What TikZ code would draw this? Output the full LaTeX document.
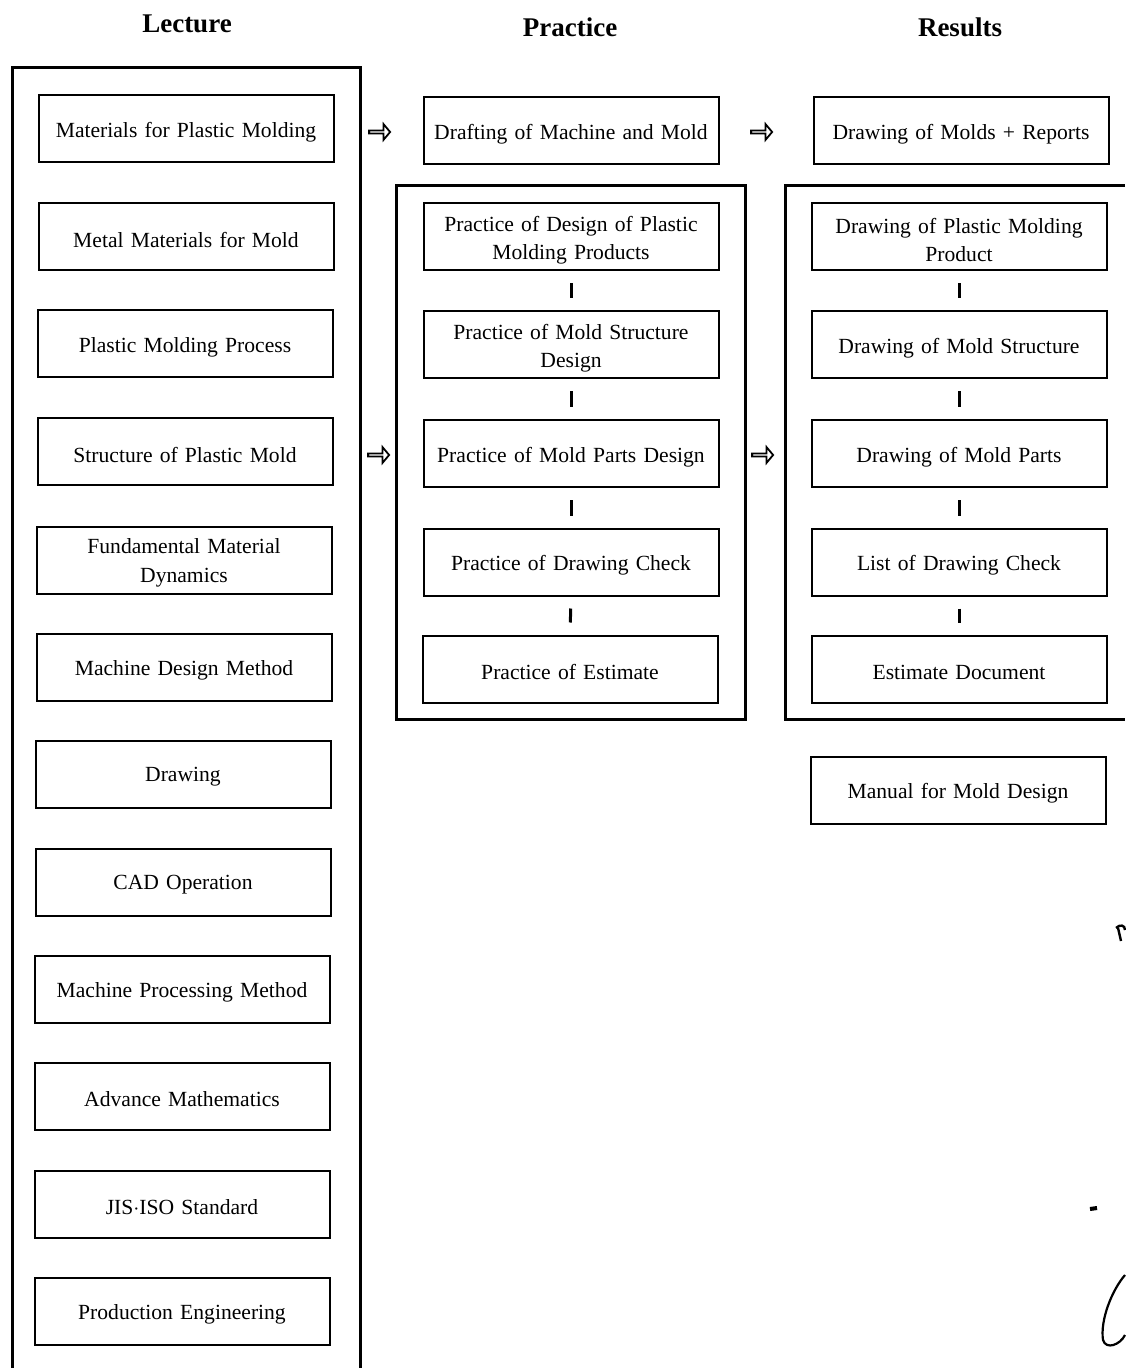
\documentclass[tikz,border=0pt]{standalone}
\usepackage{fontspec}
\setmainfont{Liberation Serif}
\usetikzlibrary{shapes.arrows}
\begin{document}
\begin{tikzpicture}[x=0.5pt,y=-0.5pt,
  box/.style={draw, line width=1pt, minimum width=147.5pt, minimum height=33.5pt, inner sep=0pt},
  btext/.style={align=center, text width=145pt, inner sep=0pt, font=\fontsize{10.8}{14.2}\selectfont},
  frame/.style={line width=1.5pt},
  title/.style={font=\fontsize{13.5}{15}\selectfont\bfseries},
  link/.style={line width=1.5pt, shorten <=6pt, shorten >=6pt},
  flow/.style={single arrow, draw, line width=0.9pt, minimum height=10.5pt, minimum width=8pt,
    single arrow head extend=2pt, single arrow tip angle=100, inner sep=0pt}]
\newcommand\bx[3]{\node[box] (#1) at #2 {};
  \node[btext] (#1t) at ([yshift=-1.5pt]#1.center) {#3};}
\useasboundingbox (0,0) rectangle (1125,1368);
\fill[white] (0,0) rectangle (1125,1368);
% titles
\node[title] (tl) at (187,24) {Lecture};
\node[title] (tp) at (570,27) {Practice};
\node[title] (tr) at (960,27) {Results};
% frames
\draw[frame] (12,1368) -- (12,68) -- (360,68) -- (360,1368);
\draw[frame] (396,186) rectangle (745,719);
\draw[frame] (1125,186) -- (785,186) -- (785,719) -- (1125,719);
% lecture boxes
\bx{l1}{(186,129)}{Materials for Plastic Molding}
\bx{l2}{(186,237)}{Metal Materials for Mold}
\bx{l3}{(185,344)}{Plastic Molding Process}
\bx{l4}{(185,452)}{Structure of Plastic Mold}
\bx{l5}{(184,560)}{Fundamental Material\\Dynamics}
\bx{l6}{(184,667)}{Machine Design Method}
\bx{l7}{(183,774)}{Drawing}
\bx{l8}{(183,882)}{CAD Operation}
\bx{l9}{(182,989)}{Machine Processing Method}
\bx{l10}{(182,1096)}{Advance Mathematics}
\bx{l11}{(182,1204)}{JIS$\cdot$ISO Standard}
\bx{l12}{(182,1311)}{Production Engineering}
% practice
\bx{p0}{(571,131)}{Drafting of Machine and Mold}
\bx{p1}{(571,237)}{Practice of Design of Plastic\\Molding Products}
\bx{p2}{(571,345)}{Practice of Mold Structure\\Design}
\bx{p3}{(571,454)}{Practice of Mold Parts Design}
\bx{p4}{(571,562)}{Practice of Drawing Check}
\bx{p5}{(570,669)}{Practice of Estimate}
% results
\bx{r0}{(961,131)}{Drawing of Molds + Reports}
\bx{r1}{(959,237)}{Drawing of Plastic Molding\\Product}
\bx{r2}{(959,345)}{Drawing of Mold Structure}
\bx{r3}{(959,454)}{Drawing of Mold Parts}
\bx{r4}{(959,562)}{List of Drawing Check}
\bx{r5}{(959,669)}{Estimate Document}
\bx{r6}{(958,790)}{Manual for Mold Design}
% vertical links
\draw[link] (p1) -- (p2);
\draw[link] (p2) -- (p3);
\draw[link] (p3) -- (p4);
\draw[link] (p4) -- (p5);
\draw[link] (r1) -- (r2);
\draw[link] (r2) -- (r3);
\draw[link] (r3) -- (r4);
\draw[link] (r4) -- (r5);
% flow arrows
\node[flow] (a1) at (379,132) {};
\node[flow] (a2) at (761,132) {};
\node[flow] (a3) at (378,455) {};
\node[flow] (a4) at (762,455) {};
% handwritten marks at right edge
\draw[line width=1.2pt] (1116,928) .. controls (1120,924) and (1125,925) .. (1125,930);
\draw[line width=1.2pt] (1118,928) -- (1121,941);
\draw[line width=2pt] (1090,1209) -- (1097,1208);
\draw[line width=1.1pt] (1125,1275) .. controls (1112,1290) and (1100,1320) .. (1103,1340)
  .. controls (1106,1350) and (1120,1345) .. (1125,1335);
\end{tikzpicture}
\end{document}
